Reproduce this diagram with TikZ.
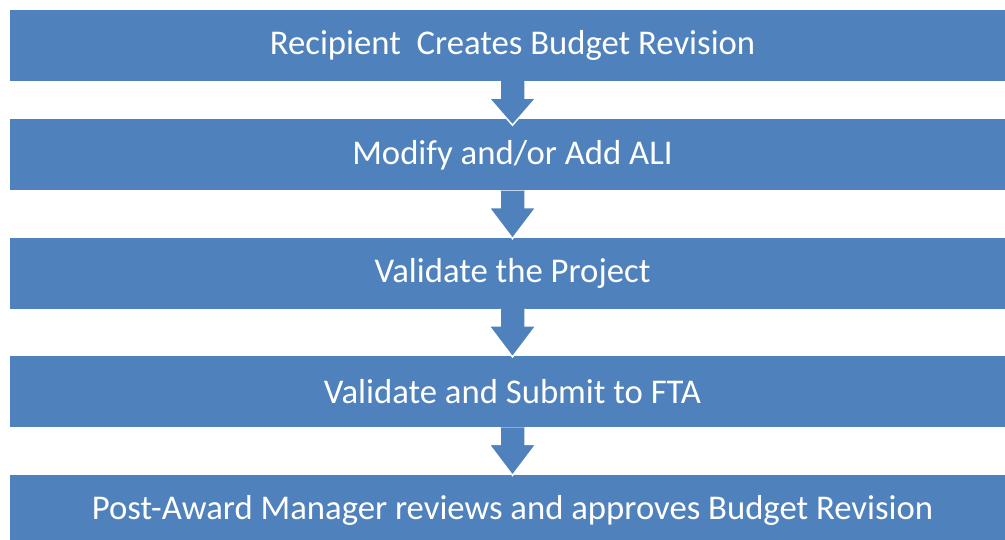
\documentclass[tikz,border=0pt]{standalone}
\usepackage{fontspec}
\setmainfont{Carlito}
\usetikzlibrary{positioning,calc}
\definecolor{stepblue}{HTML}{4F81BD}

\begin{document}
\begin{tikzpicture}[
    x=1pt, y=1pt,
    node distance=47pt,
    stepbox/.style={rectangle, fill=stepblue, text=white, minimum width=1005pt, minimum height=71pt, inner sep=0pt, font=\fontsize{34.7}{42}\selectfont},
    flowarrow/.style={fill=stepblue, draw=white, line width=1.5pt, line join=miter}
]
\useasboundingbox (0,0) rectangle (1005,-540);
\clip (0,0) rectangle (1005,-540);

\node[stepbox] (B1) at (512.5,-45.5) {Recipient\ \ Creates Budget Revision};
\node[stepbox] (B2) [below=38pt of B1] {Modify and/or Add ALI};
\node[stepbox] (B3) [below=of B2] {Validate the Project};
\node[stepbox] (B4) [below=of B3] {Validate and Submit to FTA};
\node[stepbox] (B5) [below=of B4] {Post-Award Manager reviews and approves Budget Revision};

% block arrows between the steps
\foreach \a/\b/\t in {B1/B2/6, B2/B3/1, B3/B4/1, B4/B5/1}
    \filldraw[flowarrow] ($(\a.south)+(-12.5,0)$) -- ++(0,-17) -- ++(-11,0)
        -- ($(\b.north)+(0,-\t)$) -- ($(\a.south)+(23.5,-17)$) -- ++(-11,0) -- ++(0,17);
\end{tikzpicture}
\end{document}
